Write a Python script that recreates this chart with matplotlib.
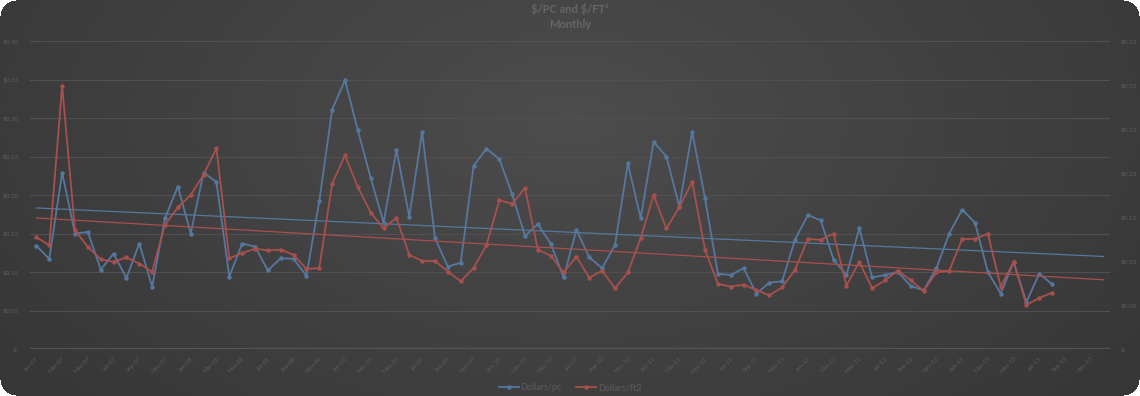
import numpy as np
import pandas as pd
import matplotlib
matplotlib.use("Agg")
import matplotlib.pyplot as plt
from matplotlib.lines import Line2D

# ---------------- data ----------------
months = list(pd.date_range("2007-01-01", periods=84, freq="MS").strftime("%b-%y"))

dollars_pc = [
    0.134, 0.117, 0.229, 0.150, 0.152, 0.103, 0.124, 0.092, 0.137, 0.081,
    0.170, 0.211, 0.150, 0.229, 0.217, 0.094, 0.137, 0.133, 0.102, 0.118,
    0.117, 0.095, 0.192, 0.311, 0.349, 0.284, 0.222, 0.164, 0.259, 0.172,
    0.282, 0.144, 0.107, 0.112, 0.238, 0.260, 0.247, 0.201, 0.147, 0.162,
    0.137, 0.093, 0.155, 0.119, 0.105, 0.135, 0.241, 0.170, 0.269, 0.250,
    0.185, 0.282, 0.196, 0.098, 0.096, 0.105, 0.072, 0.086, 0.088, 0.142,
    0.174, 0.167, 0.116, 0.096, 0.157, 0.093, 0.096, 0.100, 0.082, 0.076,
    0.105, 0.150, 0.181, 0.164, 0.100, 0.072, 0.113, 0.061, 0.098, 0.084,
    None, None, None, None,
]

dollars_ft2 = [
    0.127, 0.118, 0.299, 0.135, 0.116, 0.102, 0.099, 0.104, 0.097, 0.088,
    0.141, 0.161, 0.175, 0.198, 0.228, 0.103, 0.109, 0.114, 0.112, 0.113,
    0.107, 0.091, 0.092, 0.188, 0.220, 0.184, 0.155, 0.137, 0.149, 0.107,
    0.100, 0.100, 0.088, 0.077, 0.092, 0.118, 0.169, 0.165, 0.183, 0.113,
    0.106, 0.087, 0.105, 0.081, 0.089, 0.069, 0.087, 0.126, 0.175, 0.137,
    0.161, 0.190, 0.113, 0.074, 0.071, 0.073, 0.067, 0.061, 0.070, 0.090,
    0.125, 0.124, 0.131, 0.072, 0.099, 0.069, 0.078, 0.089, 0.078, 0.066,
    0.087, 0.089, 0.125, 0.125, 0.131, 0.071, 0.099, 0.050, 0.058, 0.064,
    None, None, None, None,
]

left_ticks = [0.0, 0.05, 0.10, 0.15, 0.20, 0.25, 0.30, 0.35, 0.40]
right_ticks = [0.0, 0.05, 0.10, 0.15, 0.20, 0.25, 0.30, 0.35]

title_text = "\\$/PC and \\$/FT\u00b2"
subtitle_text = "Monthly"
series_names = ["Dollars/pc", "Dollars/ft2"]

# ---------------- style ----------------
BLUE = "#56789f"
RED = "#a8504d"
TXT = "#5c5c5c"
GRID = "#505050"
plt.rcParams["font.family"] = ["Lato", "DejaVu Sans"]

W, H = 1140, 396
fig = plt.figure(figsize=(W / 100, H / 100), dpi=100, facecolor="white")

# background: radial dark-gray gradient with rounded corners
bg = fig.add_axes([0, 0, 1, 1])
yy, xx = np.mgrid[0:H, 0:W]
d = np.sqrt(((xx - W * 0.5) / (W * 0.62)) ** 2 + ((yy - H * 0.30) / (H * 1.05)) ** 2)
shade = np.clip(0.300 - 0.085 * d, 0.18, 0.31)
img = np.dstack([shade, shade, shade, np.ones_like(shade)])
r = 16
for cx, cy in [(r, r), (W - r - 1, r), (r, H - r - 1), (W - r - 1, H - r - 1)]:
    mx = (np.abs(xx - cx) <= r) & (np.abs(yy - cy) <= r)
    corner = ((xx < r) | (xx > W - r - 1)) & ((yy < r) | (yy > H - r - 1))
    outside = corner & mx & (np.hypot(xx - cx, yy - cy) > r)
    img[outside] = [1, 1, 1, 1]
bg.imshow(img, aspect="auto", extent=[0, W, H, 0], interpolation="bilinear")
bg.set_axis_off()

# main axes
left, right = 30 / W, 1110 / W
bottom, top = 1 - 349 / H, 1 - 41 / H
ax = fig.add_axes([left, bottom, right - left, top - bottom])
ax.set_facecolor("none")
ax2 = ax.twinx()

x = np.arange(len(months))
pc = np.array([np.nan if v is None else v for v in dollars_pc], dtype=float)
ft = np.array([np.nan if v is None else v for v in dollars_ft2], dtype=float)


def money(v):
    return "\\$-" if abs(v) < 1e-9 else f"\\${v:.2f}"


ax.set_xlim(-0.5, len(months) - 0.5)
ax.set_ylim(0, 0.40)
ax2.set_ylim(0, 0.35)
ax.set_yticks(left_ticks)
ax.set_yticklabels([money(v) for v in left_ticks])
ax2.set_yticks(right_ticks)
ax2.set_yticklabels([money(v) for v in right_ticks])

for a in (ax, ax2):
    for s in a.spines.values():
        s.set_visible(False)
    a.tick_params(axis="y", length=0, labelsize=4.6, colors=TXT)
ax.tick_params(axis="y", pad=8)
ax2.tick_params(axis="y", pad=8)

ax.grid(axis="y", color=GRID, lw=0.8)
ax.grid(axis="x", visible=False)
ax.set_axisbelow(True)
ax.axhline(0, color="#555555", lw=1.6, zorder=1)

ax.set_xticks(x[::2])
ax.set_xticklabels(months[::2], rotation=45, ha="right", va="top",
                   rotation_mode="anchor", fontsize=4.4, color=TXT)
ax.tick_params(axis="x", length=0, pad=5)

# series
ax.plot(x, pc, color=BLUE, lw=1.3, marker="o", ms=2.2, zorder=3)
ax2.plot(x, ft, color=RED, lw=1.3, marker="o", ms=2.2, zorder=3)

# linear trend lines
for arr, a, c in [(pc, ax, BLUE), (ft, ax2, RED)]:
    m = ~np.isnan(arr)
    k, b = np.polyfit(x[m], arr[m], 1)
    a.plot([x[0], x[-1]], [k * x[0] + b, k * x[-1] + b], color=c, lw=0.9, zorder=2)

# titles
fig.text(0.5, 1 - 9 / H, title_text, ha="center", va="center",
         fontsize=8, fontweight="bold", color="#666666")
fig.text(0.5, 1 - 25 / H, subtitle_text, ha="center", va="center",
         fontsize=8, fontweight="bold", color="#666666")

# legend
handles = [Line2D([], [], color=BLUE, lw=1.3, marker="o", ms=2.2),
           Line2D([], [], color=RED, lw=1.3, marker="o", ms=2.2)]
leg = fig.legend(handles, series_names, loc="center", bbox_to_anchor=(0.5, 1 - 388 / H),
                 ncol=2, frameon=False, fontsize=6.5, handlelength=2.2,
                 handletextpad=0.2, columnspacing=1.6, labelcolor=TXT)

fig.savefig("out.png", dpi=100, facecolor="white")
